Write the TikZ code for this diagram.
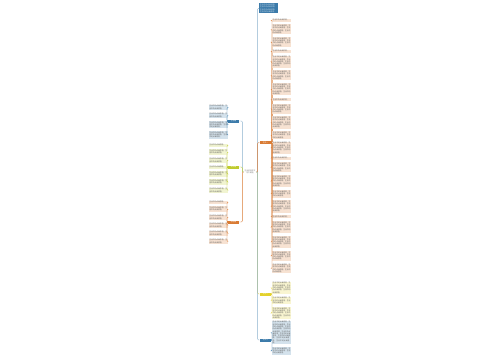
\documentclass[tikz,border=0pt]{standalone}
\usepackage{fontspec}
\newfontfamily\cjk{Noto Sans CJK SC}
\XeTeXlinebreaklocale "zh"
\XeTeXlinebreakskip=0pt plus 0.2pt
\usetikzlibrary{positioning}
\definecolor{mapblue}{HTML}{3C7BAA}
\definecolor{mapgreen}{HTML}{BFCB2E}
\definecolor{maporange}{HTML}{D97B34}
\definecolor{mapyellow}{HTML}{E3D12C}
\newcommand\tinycjk{\cjk\fontsize{1.0}{1.3}\selectfont}
\newcommand\wenzi[1]{\foreach \k in {1,...,#1}{生活中的点滴感悟，}}
\tikzset{
  leaf/.style={fill=#1!22, text=black!65, font=\tinycjk, text width=0.36cm, inner sep=0.4pt},
  topic/.style={fill=#1, text=white, font=\tinycjk, minimum width=0.22cm, minimum height=0.06cm, inner sep=0.2pt},
  link/.style={draw=#1, line width=0.2pt, rounded corners=0.5pt},
  anchorpt/.style={inner sep=0pt, minimum size=0pt},
}

\begin{document}
\begin{tikzpicture}[x=0.02cm, y=-0.02cm]
  \useasboundingbox (0,0) rectangle (500,360);
  \node[font=\tinycjk, text=black!55, align=center, inner sep=0.3pt] (ctr) at (250,172) {生活感悟作文\\范文精选};
  % main topics
  \node[topic=mapblue] (lblue) at (233.5,121) {生活篇};
  \node[topic=mapgreen] (lgreen) at (233.5,167) {成长篇};
  \node[topic=maporange] (lorange) at (233.5,222) {感悟篇};
  \node[topic=maporange] (rorange) at (265.5,142.5) {范文一};
  \node[topic=mapyellow] (ryellow) at (265.5,294) {范文二};
  \node[topic=mapblue] (rblue) at (265.5,340) {范文三};
  \node[fill=mapblue, text=white!75!mapblue, font=\tinycjk, text width=0.34cm, inner sep=0.4pt, anchor=north west] (pic) at (259,3) {\wenzi{4}};
  % center links
  \draw[link=mapblue!60] (ctr.west) -- ++(-1.5,0) |- (lblue.east);
  \draw[link=mapgreen] (ctr.west) -- ++(-1.5,0) |- (lgreen.east);
  \draw[link=maporange] (ctr.west) -- ++(-1.5,0) |- (lorange.east);
  \draw[link=mapblue!60] (ctr.east) -- ++(1.5,0) |- (pic.west);
  \draw[link=maporange] (ctr.east) -- ++(1.5,0) |- (rorange.west);
  \draw[link=mapyellow] (ctr.east) -- ++(1.5,0) |- (ryellow.west);
  \draw[link=mapblue!60] (ctr.east) -- ++(1.5,0) |- (rblue.west);
  % left leaves
  \node[anchorpt] (lb0) at (228,102) {};
  \foreach \n [count=\i] in {2,2,3,3} {
    \pgfmathtruncatemacro\j{\i-1}
    \node[leaf=mapblue, below left=0.04cm and 0cm of lb\j.south east] (lb\i) {\wenzi{\n}};
    \draw[link=mapblue] (lblue.west) -- ++(-0.6,0) |- (lb\i.east);
  }
  \node[anchorpt] (lg0) at (228,141) {};
  \foreach \n [count=\i] in {1,2,2,1,2,2,2} {
    \pgfmathtruncatemacro\j{\i-1}
    \node[leaf=mapgreen, below left=0.04cm and 0cm of lg\j.south east] (lg\i) {\wenzi{\n}};
    \draw[link=mapgreen] (lgreen.west) -- ++(-0.6,0) |- (lg\i.east);
  }
  \node[anchorpt] (lo0) at (228,198) {};
  \foreach \n [count=\i] in {1,2,2,2,2,2} {
    \pgfmathtruncatemacro\j{\i-1}
    \node[leaf=maporange, below left=0.04cm and 0cm of lo\j.south east] (lo\i) {\wenzi{\n}};
    \draw[link=maporange] (lorange.west) -- ++(-0.6,0) |- (lo\i.east);
  }
  % right leaves
  \node[anchorpt] (ro0) at (272,16) {};
  \foreach \n [count=\i] in {1,4,4,1,5,4,5,1,4,5,3,5,1,4,5,3,5,1,5,5,4,4} {
    \pgfmathtruncatemacro\j{\i-1}
    \node[leaf=maporange, below right=0.04cm and 0cm of ro\j.south west] (ro\i) {\wenzi{\n}};
    \draw[link=maporange] (rorange.east) -- ++(0.6,0) |- (ro\i.west);
  }
  \node[anchorpt] (ry0) at (272,279) {};
  \foreach \n [count=\i] in {5,3,5} {
    \pgfmathtruncatemacro\j{\i-1}
    \node[leaf=mapyellow, below right=0.04cm and 0cm of ry\j.south west] (ry\i) {\wenzi{\n}};
    \draw[link=mapyellow] (ryellow.east) -- ++(0.6,0) |- (ry\i.west);
  }
  \node[anchorpt] (rb0) at (272,318) {};
  \foreach \n [count=\i] in {10,3} {
    \pgfmathtruncatemacro\j{\i-1}
    \node[leaf=mapblue, below right=0.04cm and 0cm of rb\j.south west] (rb\i) {\wenzi{\n}};
    \draw[link=mapblue] (rblue.east) -- ++(0.6,0) |- (rb\i.west);
  }
\end{tikzpicture}
\end{document}
